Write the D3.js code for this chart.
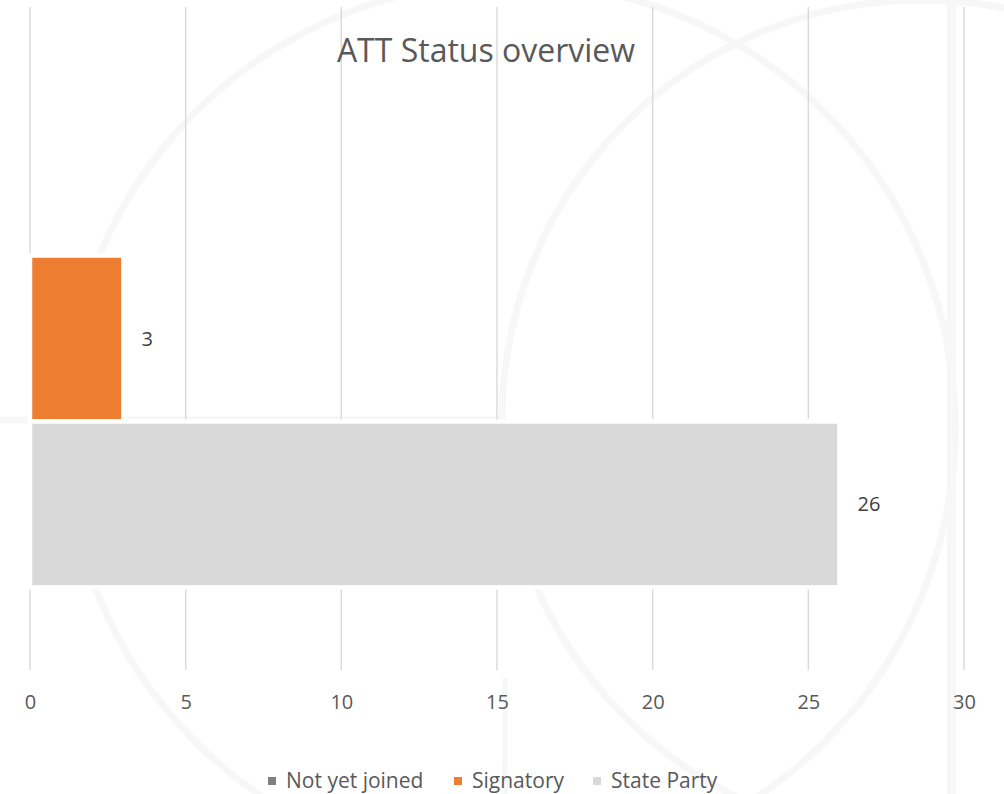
<!DOCTYPE html>
<html>
<head>
<meta charset="utf-8">
<script src="https://cdn.jsdelivr.net/npm/d3@7"></script>
<style>
  html, body { margin: 0; padding: 0; background: #ffffff; }
  svg { display: block; }
</style>
</head>
<body>
<svg id="chart" width="1004" height="794"></svg>
<script>
// ---- data ----
const title = "ATT Status overview";
const categories = ["ATT"];
const seriesNames = ["Not yet joined", "Signatory", "State Party"];
const seriesValues = [0, 3, 26];
const seriesColors = ["#7F7F7F", "#ED7D31", "#D9D9D9"];
const xTicks = [0, 5, 10, 15, 20, 25, 30];

// ---- layout ----
const W = 1004, H = 794;
const plot = { left: 30, right: 964, top: 7, bottom: 670 };
const svg = d3.select("#chart");
svg.append("rect").attr("width", W).attr("height", H).attr("fill", "#ffffff");

// faint watermark in the background
const wm = svg.append("g").attr("fill", "none").attr("stroke", "#f7f7f7");
wm.append("circle").attr("cx", 510).attr("cy", 427).attr("r", 445).attr("stroke-width", 7);
wm.append("circle").attr("cx", 922).attr("cy", 420).attr("r", 420).attr("stroke-width", 7);
wm.append("line").attr("x1", 951.5).attr("x2", 951.5).attr("y1", 0).attr("y2", H).attr("stroke-width", 9);
wm.append("line").attr("x1", 505).attr("x2", 505).attr("y1", 678).attr("y2", H).attr("stroke-width", 5);
wm.append("line").attr("x1", 0).attr("x2", 505).attr("y1", 420).attr("y2", 420).attr("stroke-width", 7);

// scales
const x = d3.scaleLinear().domain([xTicks[0], xTicks[xTicks.length - 1]]).range([plot.left, plot.right]);
const yCat = d3.scaleBand().domain(categories).range([plot.top, plot.bottom]).paddingInner(0).paddingOuter(0.166);
const ySer = d3.scaleBand().domain(seriesNames).range([0, yCat.bandwidth()]).padding(0);

// gridlines
svg.append("g")
  .selectAll("line")
  .data(xTicks)
  .join("line")
  .attr("x1", d => x(d)).attr("x2", d => x(d))
  .attr("y1", plot.top).attr("y2", plot.bottom)
  .attr("stroke", "#d9d9d9").attr("stroke-width", 1.4);

// bars
const data = seriesNames.map((s, i) => ({ cat: categories[0], name: s, value: seriesValues[i], color: seriesColors[i] }));
const barG = svg.append("g");
barG.selectAll("rect")
  .data(data.filter(d => d.value > 0))
  .join("rect")
  .attr("x", x(0))
  .attr("y", d => yCat(d.cat) + ySer(d.name))
  .attr("width", d => x(d.value) - x(0))
  .attr("height", ySer.bandwidth())
  .attr("fill", d => d.color)
  .attr("stroke", "#ffffff")
  .attr("stroke-width", 4.5);

// data labels
barG.selectAll("text")
  .data(data.filter(d => d.value > 0))
  .join("text")
  .attr("x", d => x(d.value) + 18)
  .attr("y", d => yCat(d.cat) + ySer(d.name) + ySer.bandwidth() / 2)
  .attr("dy", "0.35em")
  .attr("font-family", "'Open Sans', sans-serif")
  .attr("font-size", 20)
  .attr("fill", "#404040")
  .text(d => d.value);

// x axis tick labels
const axis = d3.axisBottom(x).tickValues(xTicks).tickSize(0).tickPadding(0);
const axG = svg.append("g").attr("transform", `translate(0, ${plot.bottom + 25})`).call(axis);
axG.select(".domain").remove();
axG.selectAll("text")
  .attr("font-family", "'Open Sans', sans-serif")
  .attr("font-size", 20)
  .attr("fill", "#595959")
  .attr("dy", "0.71em");

// title
svg.append("text")
  .attr("x", 486).attr("y", 62)
  .attr("text-anchor", "middle")
  .attr("font-family", "'Open Sans', sans-serif")
  .attr("font-size", 32)
  .attr("fill", "#595959")
  .text(title);

// legend
const legendItems = [
  { name: seriesNames[0], color: seriesColors[0], x: 268 },
  { name: seriesNames[1], color: seriesColors[1], x: 454 },
  { name: seriesNames[2], color: seriesColors[2], x: 593 }
];
const lg = svg.append("g");
const li = lg.selectAll("g").data(legendItems).join("g").attr("transform", d => `translate(${d.x}, 781)`);
li.append("rect").attr("x", 0).attr("y", -4).attr("width", 8).attr("height", 8).attr("fill", d => d.color);
li.append("text")
  .attr("x", 18).attr("y", 0).attr("dy", "0.35em")
  .attr("font-family", "'Open Sans', sans-serif")
  .attr("font-size", 21)
  .attr("fill", "#595959")
  .text(d => d.name);
</script>
</body>
</html>
